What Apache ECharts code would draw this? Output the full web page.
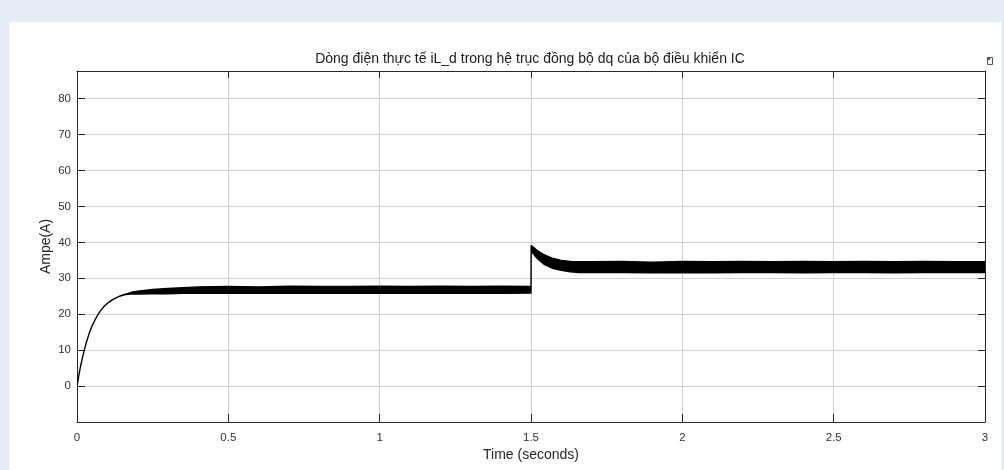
<!DOCTYPE html>
<html>
<head>
<meta charset="utf-8">
<script src="https://cdn.jsdelivr.net/npm/echarts@6/dist/echarts.min.js"></script>
<style>
html,body{margin:0;padding:0;background:#e7ebf5;}
#c{width:1004px;height:470px;}
</style>
</head>
<body>
<div id="c"></div>
<script>
// ---- data ----
var titleText = 'Dòng điện thực tế iL_d trong hệ trục đồng bộ dq của bộ điều khiển IC';
var xTickLabels = ['0', '0.5', '1', '1.5', '2', '2.5', '3'];
var yTickLabels = ['0', '10', '20', '30', '40', '50', '60', '70', '80'];
// time samples (s)
var timeS = [0, 0.005, 0.01, 0.02, 0.03, 0.04, 0.05, 0.06, 0.07, 0.08, 0.09, 0.10, 0.12, 0.14, 0.16,
  0.18, 0.20, 0.25, 0.30, 0.35, 0.40, 0.50, 0.60, 0.70, 0.80, 0.90, 1.00, 1.10, 1.20, 1.30, 1.40, 1.50,
  1.5005, 1.51, 1.52, 1.53, 1.54, 1.55, 1.57, 1.60, 1.63, 1.66, 1.70, 1.80, 1.90, 2.00, 2.10, 2.20,
  2.30, 2.40, 2.50, 2.60, 2.70, 2.80, 2.90, 3.00];
// upper envelope of the current iL_d (A)
var upperA = [0, 2.5, 4.8, 8.7, 11.9, 14.6, 16.8, 18.5, 20.0, 21.2, 22.2, 23.0, 24.2, 25.0, 25.6,
  26.1, 26.4, 26.9, 27.2, 27.4, 27.6, 27.7, 27.6, 27.8, 27.7, 27.7, 27.8, 27.7, 27.8, 27.7, 27.8, 27.7,
  39.1, 38.5, 37.8, 37.2, 36.7, 36.3, 35.6, 35.0, 34.7, 34.6, 34.6, 34.7, 34.5, 34.7, 34.6, 34.7,
  34.6, 34.7, 34.6, 34.7, 34.6, 34.7, 34.6, 34.6];
// lower envelope of the current iL_d (A)
var lowerA = [0, 2.5, 4.8, 8.7, 11.9, 14.6, 16.8, 18.5, 20.0, 21.2, 22.2, 23.0, 24.2, 25.0, 25.5,
  25.6, 25.6, 25.7, 25.7, 25.8, 25.8, 25.8, 25.9, 25.8, 25.8, 25.9, 25.8, 25.9, 25.8, 25.9, 25.8, 25.9,
  37.6, 36.6, 35.6, 34.8, 34.1, 33.6, 32.8, 32.2, 31.8, 31.6, 31.6, 31.6, 31.5, 31.6, 31.5, 31.6,
  31.6, 31.5, 31.6, 31.6, 31.5, 31.6, 31.6, 31.6];

var chart = echarts.init(document.getElementById('c'), null, {renderer: 'canvas'});
var FONT = 'Liberation Sans, Arial, sans-serif';
var gridCol = '#cfcfcf';
var axisCol = '#262626';

function yFmt(v) {
  var s = String(Math.round(v));
  return (Math.abs(v - Math.round(v)) < 1e-6 && yTickLabels.indexOf(s) >= 0) ? s : '';
}
function xFmt(v) {
  var s = String(Math.round(v * 10) / 10);
  return xTickLabels.indexOf(s) >= 0 ? s : '';
}

var option = {
  backgroundColor: '#e7ebf5',
  animation: false,
  graphic: [
    {type: 'rect', left: 9, top: 22, shape: {width: 992, height: 448}, style: {fill: '#ffffff'}, z: -10},
    {type: 'text', x: 530, y: 59, style: {text: titleText, fill: '#1a1a1a', font: '14px ' + FONT, textAlign: 'center', textVerticalAlign: 'middle'}},
    {type: 'rect', left: 985, top: 55, shape: {width: 5, height: 7}, style: {fill: 'none', stroke: '#555', lineWidth: 1}},
    {type: 'rect', left: 987, top: 57, shape: {width: 3, height: 3}, style: {fill: '#555'}}
  ],
  grid: {left: 77, right: 19, top: 71, bottom: 48, containLabel: false},
  xAxis: [
    {
      type: 'value', position: 'bottom', min: 0, max: 3, interval: 0.5,
      name: 'Time (seconds)', nameLocation: 'middle', nameGap: 26, nameMoveOverlap: false,
      nameTextStyle: {fontFamily: FONT, fontSize: 14, color: '#262626'},
      axisLine: {show: true, onZero: false, lineStyle: {color: axisCol, width: 1}},
      axisTick: {show: true, inside: true, length: 8, lineStyle: {color: axisCol}},
      axisLabel: {show: true, margin: 10, fontFamily: FONT, fontSize: 11.5, color: '#333', formatter: xFmt},
      splitLine: {show: true, lineStyle: {color: gridCol, width: 1}}
    },
    {
      type: 'value', position: 'top', min: 0, max: 3, interval: 0.5,
      axisLine: {show: true, onZero: false, lineStyle: {color: axisCol, width: 1}},
      axisTick: {show: true, inside: true, length: 7, lineStyle: {color: axisCol}},
      axisLabel: {show: false},
      splitLine: {show: false}
    }
  ],
  yAxis: [
    {
      type: 'value', position: 'left', min: -10, max: 87.7, interval: 10,
      name: 'Ampe(A)', nameLocation: 'middle', nameGap: 24, nameRotate: 90, nameMoveOverlap: false,
      nameTextStyle: {fontFamily: FONT, fontSize: 14, color: '#262626'},
      axisLine: {show: true, onZero: false, lineStyle: {color: axisCol, width: 1}},
      axisTick: {show: true, inside: true, length: 8, lineStyle: {color: axisCol}},
      axisLabel: {show: true, margin: 6, fontFamily: FONT, fontSize: 11.5, color: '#333', formatter: yFmt, showMaxLabel: false},
      splitLine: {show: true, lineStyle: {color: gridCol, width: 1}}
    },
    {
      type: 'value', position: 'right', min: -10, max: 87.7, interval: 10,
      axisLine: {show: true, onZero: false, lineStyle: {color: axisCol, width: 1}},
      axisTick: {show: true, inside: true, length: 7, lineStyle: {color: axisCol}},
      axisLabel: {show: false},
      splitLine: {show: false}
    }
  ],
  series: [
    {
      type: 'custom',
      name: 'iL_d',
      xAxisIndex: 0, yAxisIndex: 0,
      clip: true,
      data: [[0, 0]],
      encode: {x: 0, y: 1},
      renderItem: function (params, api) {
        var pts = [];
        for (var i = 0; i < timeS.length; i++) pts.push(api.coord([timeS[i], upperA[i]]));
        for (var j = timeS.length - 1; j >= 0; j--) pts.push(api.coord([timeS[j], lowerA[j]]));
        return {
          type: 'polygon',
          shape: {points: pts},
          style: {fill: '#000000', stroke: '#000000', lineWidth: 1.4, lineJoin: 'round'}
        };
      }
    }
  ]
};
chart.setOption(option);
</script>
</body>
</html>
